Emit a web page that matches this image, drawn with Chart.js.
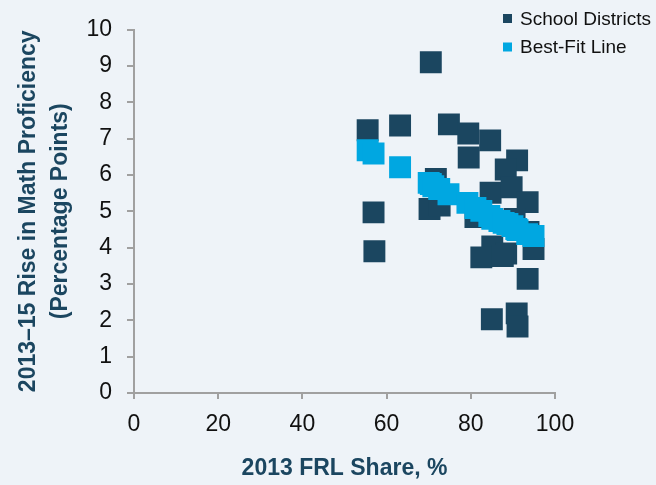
<!DOCTYPE html>
<html>
<head>
<meta charset="utf-8">
<script src="https://cdn.jsdelivr.net/npm/chart.js@4.4.1/dist/chart.umd.min.js"></script>
<style>
  html, body { margin: 0; padding: 0; background: #eef3f8; }
  #wrap { width: 656px; height: 485px; }
</style>
</head>
<body>
<div id="wrap"><canvas id="frlChart" width="656" height="485"></canvas></div>
<script>
// 2013 FRL share (%) and 2013-15 rise in math proficiency for each district
var districtFrl  = [70.5, 55.5, 63.2, 74.8, 79.4, 84.6, 79.5, 91.0, 88.3, 71.7, 84.7, 89.7, 93.5, 70.2, 72.6,
                    56.9, 81.1, 90.4, 93.7, 94.9, 57.1, 85.1, 82.5, 88.4, 87.6, 93.5, 85.0, 90.9, 91.1];
var districtRise = [9.10, 7.23, 7.36, 7.39, 7.14, 6.95, 6.48, 6.40, 6.15, 5.89, 5.51, 5.66, 5.25, 5.06, 5.16,
                    4.97, 4.84, 4.79, 4.43, 3.96, 3.90, 4.03, 3.73, 3.84, 3.77, 3.14, 2.03, 2.19, 1.83];

// best-fit line, drawn as markers like the original
var fitFrl  = [55.5, 56.9, 63.2, 70.0, 70.5, 71.1, 72.5, 74.7, 79.2, 81.1, 82.5, 84.4, 85.1, 86.8,
               87.8, 88.7, 89.9, 90.8, 91.1, 93.4, 94.9];
var fitRise = [6.68, 6.59, 6.21, 5.78, 5.75, 5.69, 5.61, 5.47, 5.23, 5.09, 5.01, 4.87, 4.79, 4.73,
               4.68, 4.65, 4.59, 4.51, 4.48, 4.37, 4.32];

var xTicks = [0, 20, 40, 60, 80, 100];
var yTicks = [0, 1, 2, 3, 4, 5, 6, 7, 8, 9, 10];

var darkBlue = '#1b4660';
var lightBlue = '#00a7e1';
var axisGrey = '#a0a0a0';
var sans = '"Liberation Sans", Arial, sans-serif';

function toPoints(xs, ys) {
    return xs.map(function (x, i) { return { x: x, y: ys[i] }; });
}

// legend sits inside the plot, top right, stacked
var cornerLegend = {
    id: 'cornerLegend',
    afterDraw: function (chart) {
        var ctx = chart.ctx;
        ctx.save();
        ctx.font = '19px ' + sans;
        ctx.textBaseline = 'middle';
        ctx.textAlign = 'left';
        chart.data.datasets.forEach(function (ds, i) {
            var y = 18.5 + i * 28.5;
            ctx.fillStyle = ds.backgroundColor;
            ctx.fillRect(503, y - 4.5, 9, 9);
            ctx.fillStyle = '#111111';
            ctx.fillText(ds.label, 520, y + 1);
        });
        ctx.restore();
    }
};

var ctx = document.getElementById('frlChart').getContext('2d');

window.frlChart = new Chart(ctx, {
    type: 'scatter',
    data: {
        datasets: [{
            label: 'School Districts',
            data: toPoints(districtFrl, districtRise),
            backgroundColor: darkBlue,
            borderWidth: 0,
            pointStyle: 'rect',
            pointRadius: 15.5,
            order: 1
        }, {
            label: 'Best-Fit Line',
            data: toPoints(fitFrl, fitRise),
            backgroundColor: lightBlue,
            borderWidth: 0,
            pointStyle: 'rect',
            pointRadius: 15.5,
            order: 0
        }]
    },
    options: {
        responsive: false,
        animation: false,
        devicePixelRatio: 1,
        events: [],
        layout: { padding: { left: 0, top: 29.5, right: 101, bottom: 0 } },
        plugins: {
            legend: { display: false },
            tooltip: { enabled: false }
        },
        scales: {
            x: {
                type: 'linear',
                min: 0,
                max: 100,
                afterBuildTicks: function (scale) {
                    scale.ticks = xTicks.map(function (v) { return { value: v }; });
                },
                afterFit: function (scale) { scale.height = 92; },
                border: { display: true, color: axisGrey, width: 2 },
                grid: { drawOnChartArea: false, drawTicks: true, tickLength: 6, color: axisGrey, lineWidth: 2 },
                ticks: { color: '#111111', padding: 12, font: { family: sans, size: 23 } },
                title: {
                    display: true,
                    text: '2013 FRL Share, %',
                    color: darkBlue,
                    padding: { top: 0, bottom: 0 },
                    font: { family: sans, size: 23, weight: 'bold', lineHeight: 1.41 }
                }
            },
            y: {
                type: 'linear',
                min: 0,
                max: 10,
                afterBuildTicks: function (scale) {
                    scale.ticks = yTicks.map(function (v) { return { value: v }; });
                },
                afterFit: function (scale) { scale.width = 134; },
                border: { display: true, color: axisGrey, width: 2 },
                grid: { drawOnChartArea: false, drawTicks: true, tickLength: 7, color: axisGrey, lineWidth: 2 },
                ticks: { color: '#111111', padding: 15, font: { family: sans, size: 23 } },
                title: {
                    display: true,
                    text: ['2013\u201315 Rise in Math Proficiency', '(Percentage Points)'],
                    color: darkBlue,
                    padding: { top: 12, bottom: 0 },
                    font: { family: sans, size: 23, weight: 'bold', lineHeight: 1.41 }
                }
            }
        }
    },
    plugins: [cornerLegend]
});
</script>
</body>
</html>
